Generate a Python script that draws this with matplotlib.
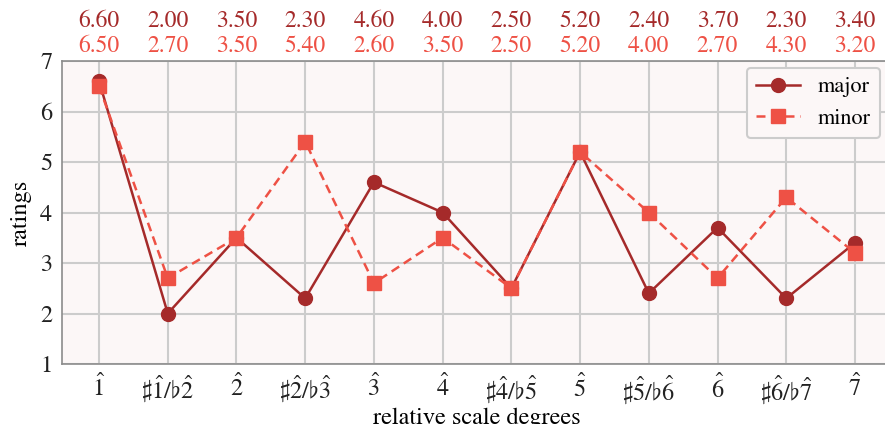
import matplotlib.pyplot as plt

plt.rcParams.update({
    "font.family": "STIXGeneral",
    "mathtext.fontset": "stix",
    "font.size": 17.5,
})

degrees = [r"$\hat{1}$", r"$\sharp\hat{1}/\flat\hat{2}$", r"$\hat{2}$", r"$\sharp\hat{2}/\flat\hat{3}$",
           r"$\hat{3}$", r"$\hat{4}$", r"$\sharp\hat{4}/\flat\hat{5}$", r"$\hat{5}$",
           r"$\sharp\hat{5}/\flat\hat{6}$", r"$\hat{6}$", r"$\sharp\hat{6}/\flat\hat{7}$", r"$\hat{7}$"]
major = [6.6, 2.0, 3.5, 2.3, 4.6, 4.0, 2.5, 5.2, 2.4, 3.7, 2.3, 3.4]
minor = [6.5, 2.7, 3.5, 5.4, 2.6, 3.5, 2.5, 5.2, 4.0, 2.7, 4.3, 3.2]

major_color = "#a52a2a"
minor_color = "#ee5145"

fig = plt.figure(figsize=(8.85, 4.24), dpi=100)
ax = fig.add_axes([0.070, 0.1415, 0.938, 0.7146])
ax.set_facecolor("#fcf7f7")

x = list(range(len(degrees)))
ax.plot(x, major, color=major_color, marker="o", markersize=10, linewidth=1.8, label="major")
ax.plot(x, minor, color=minor_color, marker="s", markersize=10, linewidth=1.8, linestyle="--",
        dashes=(3.6, 2.2), label="minor")

for i in x:
    ax.text(i, 7.78, f"{major[i]:.2f}", color=major_color, ha="center", va="center", fontsize=17)
    ax.text(i, 7.30, f"{minor[i]:.2f}", color=minor_color, ha="center", va="center", fontsize=17)

ax.set_xlim(-0.54, 11.54)
ax.set_ylim(1, 7)
ax.set_xticks(x)
ax.set_xticklabels(degrees)
ax.set_yticks(range(1, 8))
ax.grid(True, color="#cccccc", linewidth=1.5)
ax.set_axisbelow(True)
for s in ax.spines.values():
    s.set_color("#8c8c8c")
    s.set_linewidth(1.2)
ax.tick_params(length=0, pad=7, colors="#222222")
ax.set_xlabel("relative scale degrees", fontsize=17.5, labelpad=1)
ax.set_ylabel("ratings", fontsize=17.5, labelpad=6)

leg = ax.legend(loc="upper right", bbox_to_anchor=(0.9855, 0.977), fontsize=16,
                facecolor="#fcf7f7", edgecolor="#cccccc", framealpha=1.0, handlelength=2.0,
                borderaxespad=0)
leg.get_frame().set_linewidth(1.5)

fig.savefig("out.png", dpi=100)
